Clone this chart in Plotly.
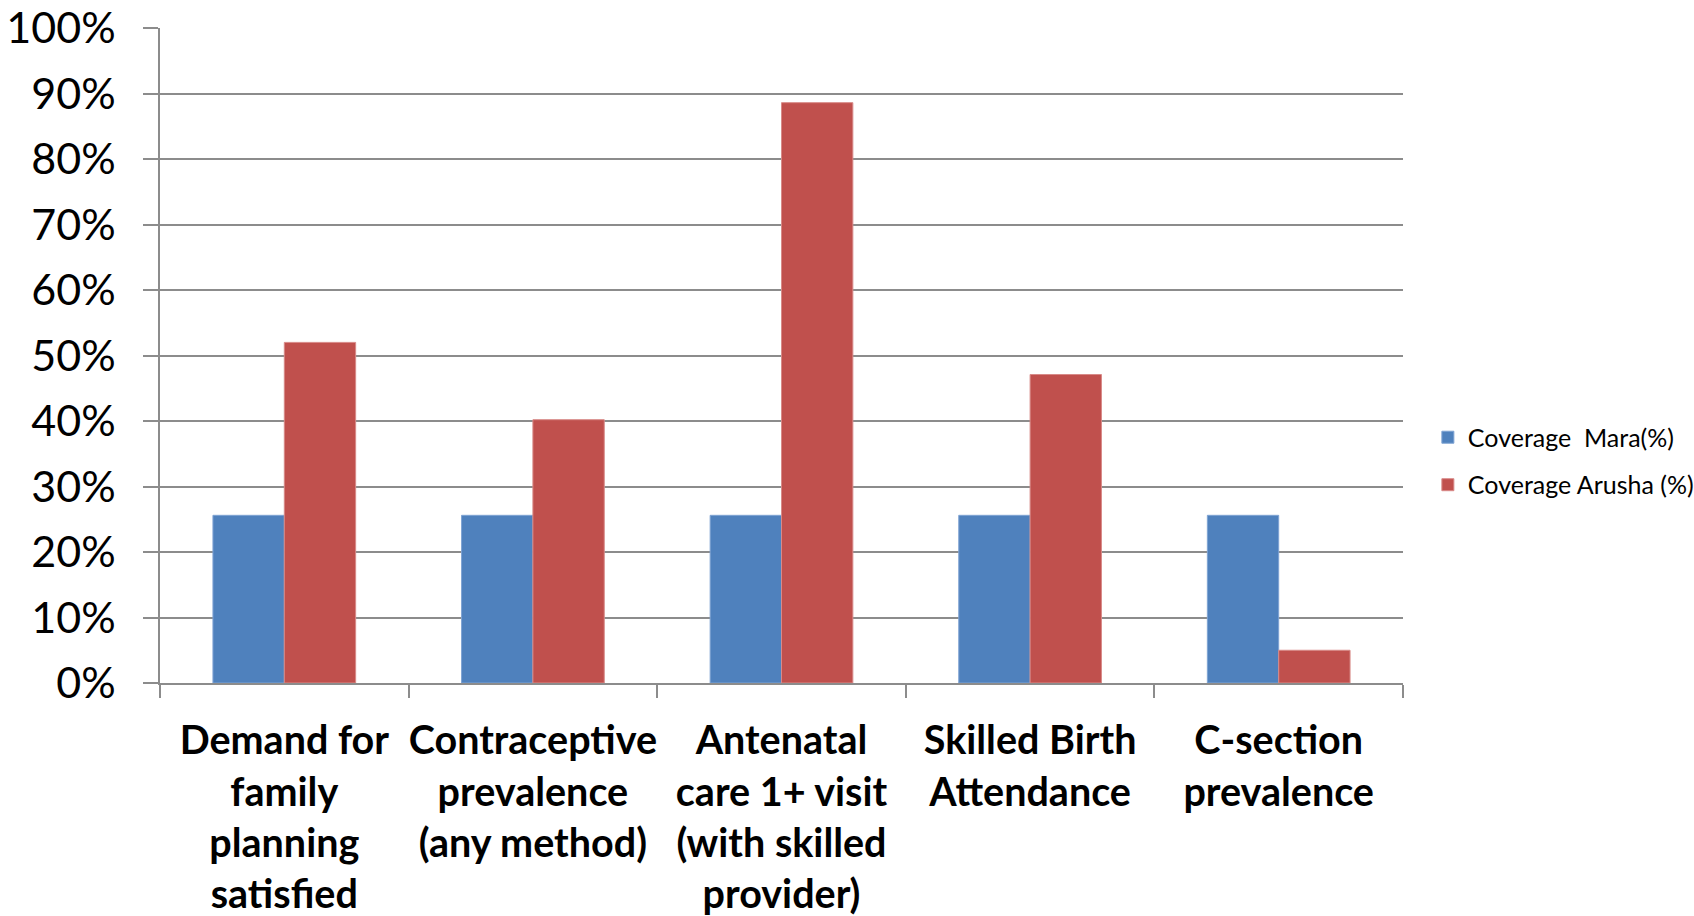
import plotly.graph_objects as go

categories = [
    "Demand for<br>family<br>planning<br>satisfied",
    "Contraceptive<br>prevalence<br>(any method)",
    "Antenatal<br>care 1+ visit<br>(with skilled<br>provider)",
    "Skilled Birth<br>Attendance",
    "C-section<br>prevalence",
]
mara = [25.6, 25.6, 25.6, 25.6, 25.6]
arusha = [52.0, 40.2, 88.6, 47.1, 5.0]
y_ticks = [0, 10, 20, 30, 40, 50, 60, 70, 80, 90, 100]
y_tick_labels = [f"{v}%" for v in y_ticks]

FONT = "Lato"
GRID = "#8c8c8c"

fig = go.Figure()
fig.add_trace(go.Bar(
    name="Coverage  Mara(%)", x=categories, y=mara,
    marker=dict(color="#4F81BD", line=dict(color="#7fa3d3", width=1)),
    legendgroup="a",
))
fig.add_trace(go.Bar(
    name="Coverage Arusha (%)", x=categories, y=arusha,
    marker=dict(color="#C0504D", line=dict(color="#d88a88", width=1)),
    legendgroup="b",
))

fig.update_layout(
    width=1694, height=916,
    paper_bgcolor="white", plot_bgcolor="white",
    margin=dict(l=160, r=291, t=28, b=233, autoexpand=False),
    barmode="group", bargap=0.426, bargroupgap=0,
    font=dict(family=FONT, color="black"),
    legend=dict(
        x=1.02, xanchor="left", y=0.339, yanchor="middle",
        font=dict(family=FONT, size=25, color="black"),
        traceorder="grouped", tracegroupgap=12,
        bgcolor="rgba(0,0,0,0)",
    ),
    showlegend=True,
)
fig.update_xaxes(
    type="category", automargin=False,
    showline=True, linecolor=GRID, linewidth=1.5,
    ticks="outside", tickson="boundaries", ticklen=13, tickcolor=GRID, tickwidth=1.5,
    tickfont=dict(family=FONT, size=39.5, color="black", weight="bold"),
    showgrid=False, tickangle=0,
    ticklabelstandoff=22, ticklabeloverflow="allow",
)
fig.update_yaxes(
    range=[0, 100], automargin=False,
    tickvals=y_ticks, ticktext=y_tick_labels,
    showline=True, linecolor=GRID, linewidth=1.5,
    ticks="outside", ticklen=15, tickcolor=GRID, tickwidth=1.5,
    showgrid=True, gridcolor=GRID, gridwidth=1.5,
    zeroline=False,
    tickfont=dict(family=FONT, size=43, color="black"),
    ticklabelstandoff=19, ticklabeloverflow="allow",
)

fig.write_html(
    "out.html",
    config={"displayModeBar": False},
    post_script="document.body.style.margin='0';",
)
